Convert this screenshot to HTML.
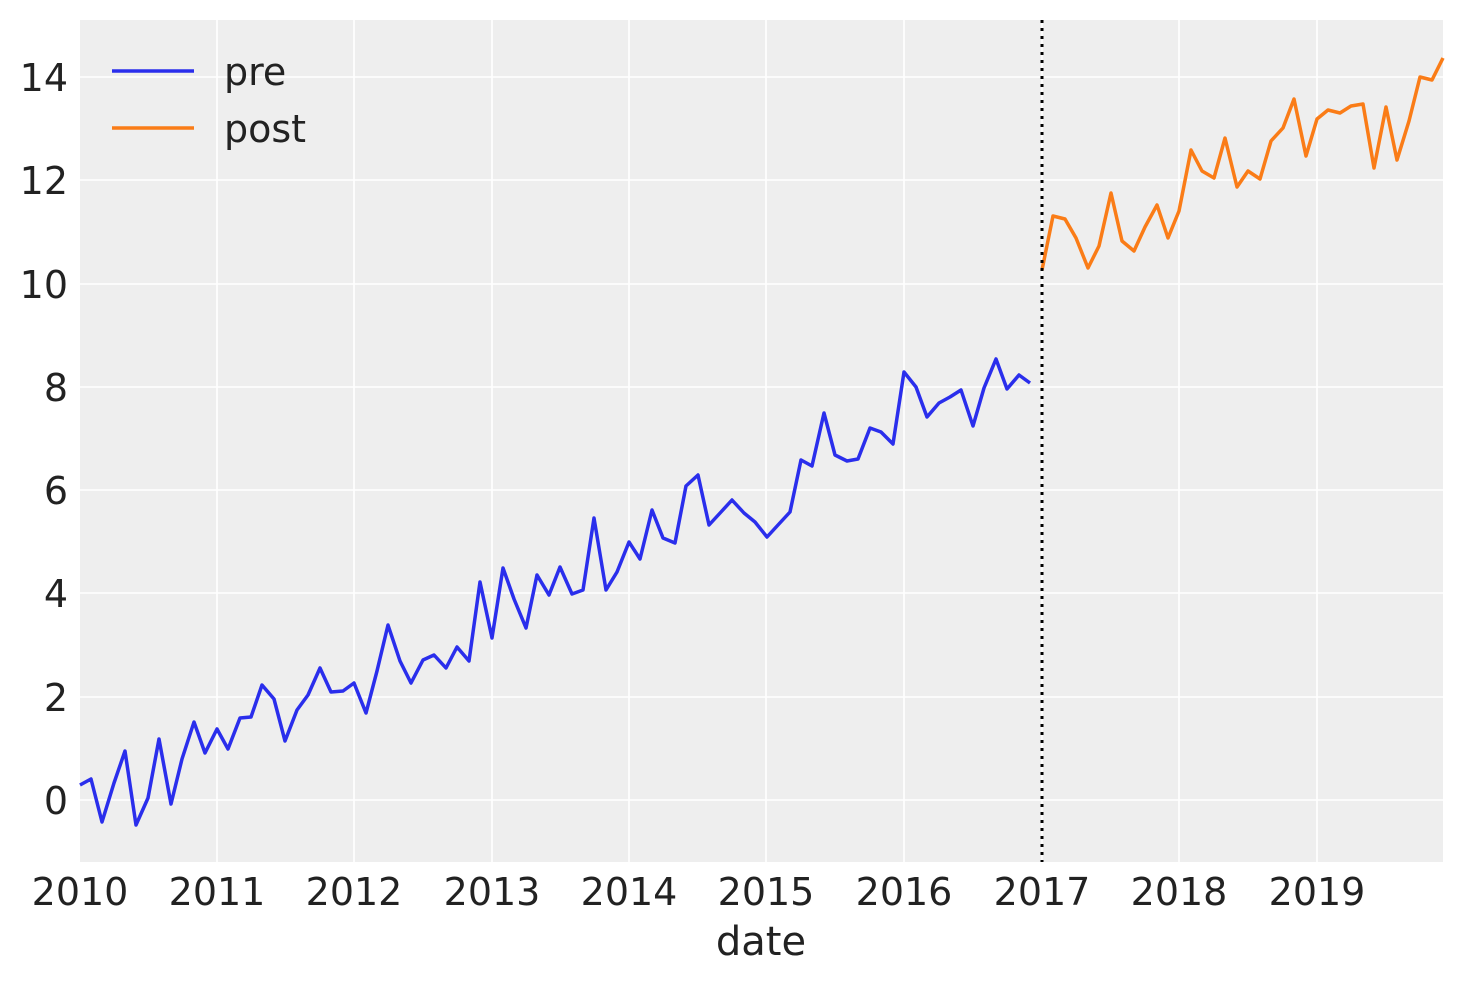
<!DOCTYPE html>
<html><head><meta charset="utf-8"><style>html,body{margin:0;padding:0;background:#fff}svg{display:block}</style></head>
<body>
<svg width="1463" height="983" xmlns="http://www.w3.org/2000/svg" font-family="DejaVu Sans, sans-serif">
<rect x="80" y="20" width="1363" height="842" fill="#eeeeee"/>
<g stroke="#fff" stroke-width="1.6">
<line x1="80" x2="1443" y1="800" y2="800"/><line x1="80" x2="1443" y1="697" y2="697"/><line x1="80" x2="1443" y1="593" y2="593"/><line x1="80" x2="1443" y1="490" y2="490"/><line x1="80" x2="1443" y1="387" y2="387"/><line x1="80" x2="1443" y1="284" y2="284"/><line x1="80" x2="1443" y1="180" y2="180"/><line x1="80" x2="1443" y1="77" y2="77"/>
<line y1="20" y2="862" x1="217" x2="217"/><line y1="20" y2="862" x1="354" x2="354"/><line y1="20" y2="862" x1="492" x2="492"/><line y1="20" y2="862" x1="629" x2="629"/><line y1="20" y2="862" x1="766" x2="766"/><line y1="20" y2="862" x1="904" x2="904"/><line y1="20" y2="862" x1="1042" x2="1042"/><line y1="20" y2="862" x1="1179" x2="1179"/><line y1="20" y2="862" x1="1317" x2="1317"/>
</g>
<polyline fill="none" stroke="#2a2eec" stroke-width="3.5" stroke-linejoin="round" points="80,785 91,779 102,822 114,783 125,751 136,825 148,798 159,739 171,804 182,759 194,722 205,753 217,729 228,749 240,718 251,717 262,685 274,699 285,741 297,710 308,695 320,668 331,692 343,691 354,683 366,713 377,671 388,625 400,661 411,683 423,660 434,655 446,668 457,647 469,661 480,582 492,638 503,568 514,599 526,628 537,575 549,595 560,567 572,594 583,590 594,518 606,590 617,572 629,542 640,559 652,510 663,538 675,543 686,486 698,475 709,525 721,512 732,500 744,513 755,522 767,537 778,525 790,512 801,460 812,466 824,413 835,455 847,461 858,459 870,428 881,432 893,444 904,372 916,387 927,417 939,403 950,397 961,390 973,426 984,388 996,359 1007,389 1019,375 1030,383"/>
<polyline fill="none" stroke="#fa7c17" stroke-width="3.5" stroke-linejoin="round" points="1042,270 1053,216 1065,219 1076,238 1088,268 1099,246 1111,193 1122,241 1134,251 1145,227 1157,205 1168,238 1179,211 1191,150 1202,171 1214,178 1225,138 1237,187 1248,171 1260,179 1271,141 1283,128 1294,99 1306,156 1317,119 1328,110 1340,113 1351,106 1363,104 1374,168 1386,107 1397,160 1409,121 1420,77 1432,80 1443,58"/>
<line x1="1042" x2="1042" y1="20" y2="862" stroke="#000" stroke-width="3" stroke-dasharray="3,5"/>
<g font-size="38" fill="#222" text-anchor="end">
<text x="68" y="814">0</text><text x="68" y="711">2</text><text x="68" y="607">4</text><text x="68" y="504">6</text><text x="68" y="401">8</text><text x="68" y="298">10</text><text x="68" y="194">12</text><text x="68" y="91">14</text>
</g>
<g font-size="38" fill="#222" text-anchor="middle">
<text x="80" y="905">2010</text><text x="217" y="905">2011</text><text x="354" y="905">2012</text><text x="492" y="905">2013</text><text x="629" y="905">2014</text><text x="766" y="905">2015</text><text x="904" y="905">2016</text><text x="1042" y="905">2017</text><text x="1179" y="905">2018</text><text x="1317" y="905">2019</text>
<text x="761" y="955" font-size="40">date</text>
</g>
<line x1="112" x2="194" y1="71" y2="71" stroke="#2a2eec" stroke-width="3.5"/>
<line x1="112" x2="194" y1="128" y2="128" stroke="#fa7c17" stroke-width="3.5"/>
<g font-size="38" fill="#222"><text x="224" y="85">pre</text><text x="224" y="142">post</text></g>
</svg>
</body></html>
